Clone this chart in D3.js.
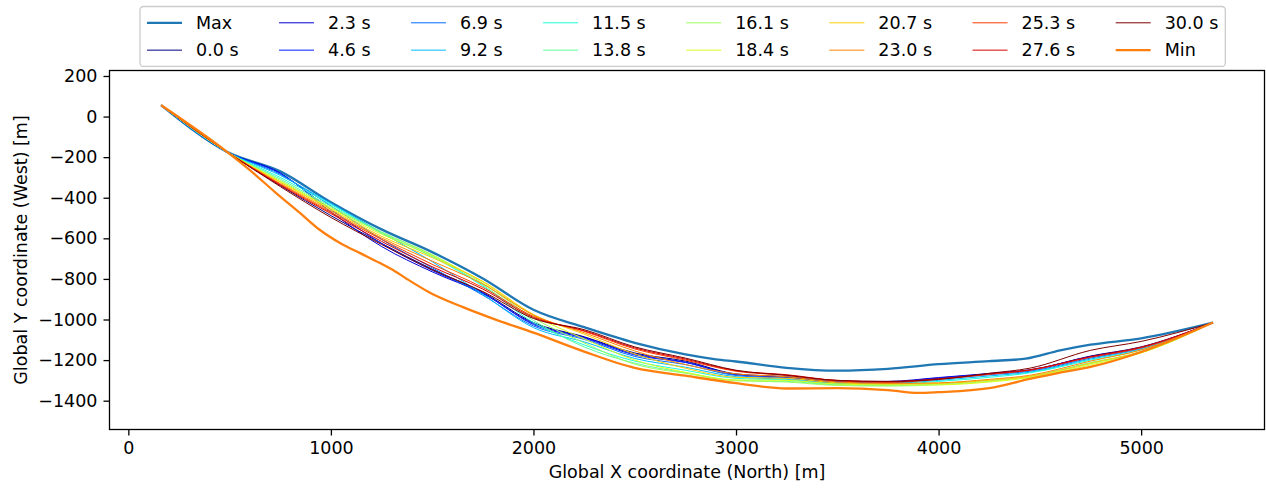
<!DOCTYPE html>
<html>
<head>
<meta charset="utf-8">
<script src="https://cdn.jsdelivr.net/npm/d3@7"></script>
<style>
  html, body { margin: 0; padding: 0; background: #ffffff; }
  svg { display: block; font-family: "DejaVu Sans", sans-serif; }
</style>
</head>
<body>
<svg id="chart" width="1266" height="489"></svg>
<script>
// ---- data -------------------------------------------------------------
// Global X (North) sampling positions of the snapshot profiles [m]
const stationsX = [166, 487, 750, 1000, 1250, 1500, 1750, 2000, 2250, 2500, 2750,
                   3000, 3250, 3500, 3750, 4000, 4250, 4450, 4750, 5000, 5350];

// Snapshot labels (simulation time)
const timeLabels = ["0.0 s", "2.3 s", "4.6 s", "6.9 s", "9.2 s", "11.5 s", "13.8 s",
                    "16.1 s", "18.4 s", "20.7 s", "23.0 s", "25.3 s", "27.6 s", "30.0 s"];

// Global Y (West) of each snapshot at stationsX [m]
const y_t00_0 = [53, -174, -340, -488, -625, -752, -866, -1015, -1085, -1165, -1205, -1268, -1282, -1305, -1308, -1290, -1268, -1250, -1180, -1135, -1017];
const y_t02_3 = [53, -174, -278, -470, -640, -765, -872, -1020, -1088, -1170, -1210, -1270, -1284, -1306, -1305, -1286, -1266, -1248, -1182, -1138, -1017];
const y_t04_6 = [53, -174, -281, -458, -625, -758, -870, -1025, -1092, -1175, -1212, -1272, -1285, -1308, -1308, -1288, -1268, -1250, -1185, -1140, -1017];
const y_t06_9 = [53, -174, -285, -440, -605, -745, -880, -1032, -1098, -1182, -1222, -1276, -1290, -1312, -1312, -1294, -1272, -1255, -1190, -1142, -1017];
const y_t09_2 = [53, -174, -290, -428, -572, -715, -876, -1040, -1110, -1192, -1235, -1282, -1295, -1315, -1315, -1300, -1278, -1260, -1195, -1145, -1017];
const y_t11_5 = [53, -174, -300, -433, -575, -690, -835, -1015, -1125, -1205, -1250, -1290, -1298, -1318, -1320, -1305, -1285, -1263, -1200, -1150, -1017];
const y_t13_8 = [53, -174, -308, -442, -568, -684, -830, -1005, -1135, -1215, -1262, -1300, -1305, -1322, -1325, -1318, -1300, -1280, -1212, -1160, -1017];
const y_t16_1 = [53, -174, -315, -448, -572, -680, -822, -992, -1115, -1220, -1265, -1302, -1308, -1325, -1328, -1322, -1305, -1284, -1218, -1163, -1017];
const y_t18_4 = [53, -174, -320, -453, -580, -686, -815, -980, -1095, -1200, -1260, -1298, -1300, -1318, -1322, -1322, -1308, -1286, -1224, -1165, -1017];
const y_t20_7 = [53, -174, -324, -458, -590, -695, -812, -975, -1072, -1170, -1240, -1285, -1290, -1312, -1318, -1315, -1300, -1280, -1215, -1158, -1017];
const y_t23_0 = [53, -174, -330, -465, -598, -712, -825, -978, -1065, -1155, -1222, -1268, -1282, -1308, -1315, -1312, -1295, -1275, -1205, -1150, -1017];
const y_t25_3 = [53, -174, -334, -472, -605, -728, -842, -985, -1058, -1145, -1200, -1255, -1275, -1302, -1310, -1295, -1270, -1250, -1186, -1140, -1017];
const y_t27_6 = [53, -174, -338, -478, -615, -740, -850, -990, -1055, -1140, -1195, -1252, -1272, -1300, -1306, -1292, -1268, -1248, -1183, -1136, -1017];
const y_t30_0 = [53, -174, -345, -497, -630, -755, -862, -995, -1050, -1135, -1190, -1250, -1275, -1300, -1305, -1295, -1265, -1240, -1152, -1108, -1017];

// Upper envelope over all time steps
const maxX = [166, 487, 750, 1000, 1250, 1500, 1750, 2000, 2250, 2500, 2750, 2900,
              3000, 3250, 3500, 3750, 4000, 4250, 4430, 4600, 4750, 5000, 5350];
const maxY = [53, -174, -270, -422, -556, -668, -798, -952, -1038, -1115, -1172, -1196,
              -1207, -1238, -1252, -1243, -1220, -1205, -1193, -1152, -1124, -1093, -1017];

// Lower envelope over all time steps
const minX = [166, 487, 600, 724, 847, 946, 1045, 1144, 1242, 1316, 1375, 1489, 1652, 1820,
              2000, 2250, 2500, 2750, 3000, 3250, 3500, 3750, 3900, 4000, 4250, 4450,
              4600, 4750, 5000, 5350];
const minY = [53, -174, -264, -372, -475, -559, -623, -673, -722, -762, -800, -868, -939, -1003,
              -1065, -1158, -1238, -1277, -1314, -1340, -1338, -1348, -1362, -1358, -1338, -1293,
              -1262, -1234, -1160, -1017];

// Axis settings
const xDomain = [-93, 5609];
const yDomain = [-1542, 227];
const xTicks = [0, 1000, 2000, 3000, 4000, 5000];
const yTicks = [-1400, -1200, -1000, -800, -600, -400, -200, 0, 200];

// ---- drawing ----------------------------------------------------------
const snapshots = [y_t00_0, y_t02_3, y_t04_6, y_t06_9, y_t09_2, y_t11_5, y_t13_8,
                   y_t16_1, y_t18_4, y_t20_7, y_t23_0, y_t25_3, y_t27_6, y_t30_0];

const FONT = 17.5;
const plot = { left: 109.5, right: 1264.5, top: 70.5, bottom: 429.5 };

const svg = d3.select("#chart");

const x = d3.scaleLinear().domain(xDomain).range([plot.left, plot.right]);
const y = d3.scaleLinear().domain(yDomain).range([plot.bottom, plot.top]);

// "jet" colormap built from its piecewise-linear channel definitions
const jetR = d3.scaleLinear().domain([0, 0.35, 0.66, 0.89, 1]).range([0, 0, 1, 1, 0.5]);
const jetG = d3.scaleLinear().domain([0, 0.125, 0.375, 0.64, 0.91, 1]).range([0, 0, 1, 1, 0, 0]);
const jetB = d3.scaleLinear().domain([0, 0.11, 0.34, 0.65, 1]).range([0.5, 1, 1, 0, 0]);
const jet = t => d3.rgb(jetR(t) * 255, jetG(t) * 255, jetB(t) * 255).formatHex();

const MAX_COLOR = "#1f77b4";
const MIN_COLOR = "#ff7f0e";

const series = [];
series.push({ label: "Max", xs: maxX, ys: maxY, color: MAX_COLOR, width: 2.3 });
snapshots.forEach((ys, i) => {
  series.push({ label: timeLabels[i], xs: stationsX, ys: ys,
                color: jet(i / (snapshots.length - 1)), width: 1.0 });
});
series.push({ label: "Min", xs: minX, ys: minY, color: MIN_COLOR, width: 2.3 });

// clip to the axes area
svg.append("defs").append("clipPath").attr("id", "plot-clip")
  .append("rect")
  .attr("x", plot.left).attr("y", plot.top)
  .attr("width", plot.right - plot.left).attr("height", plot.bottom - plot.top);

const line = d3.line()
  .x(d => x(d[0]))
  .y(d => y(d[1]))
  .curve(d3.curveMonotoneX);

const gLines = svg.append("g").attr("clip-path", "url(#plot-clip)");
series.forEach(s => {
  gLines.append("path")
    .datum(s.xs.map((v, i) => [v, s.ys[i]]))
    .attr("d", line)
    .attr("fill", "none")
    .attr("stroke", s.color)
    .attr("stroke-width", s.width)
    .attr("stroke-linejoin", "round")
    .attr("stroke-linecap", "square");
});

// axes
const xAxis = d3.axisBottom(x).tickValues(xTicks).tickFormat(d3.format("d"))
  .tickSize(6).tickPadding(6);
const yAxis = d3.axisLeft(y).tickValues(yTicks).tickFormat(d3.format("d"))
  .tickSize(6).tickPadding(6);

const gx = svg.append("g").attr("transform", `translate(0,${plot.bottom})`).call(xAxis);
const gy = svg.append("g").attr("transform", `translate(${plot.left},0)`).call(yAxis);
[gx, gy].forEach(g => {
  g.select(".domain").remove();
  g.selectAll(".tick line").attr("stroke", "#000").attr("stroke-width", 1.3);
  g.selectAll(".tick text")
    .attr("fill", "#000")
    .style("font-size", FONT + "px")
    .style("font-family", "'DejaVu Sans', sans-serif");
});

// frame
svg.append("rect")
  .attr("x", plot.left).attr("y", plot.top)
  .attr("width", plot.right - plot.left).attr("height", plot.bottom - plot.top)
  .attr("fill", "none").attr("stroke", "#000").attr("stroke-width", 1.3);

// axis titles
svg.append("text")
  .attr("x", (plot.left + plot.right) / 2).attr("y", 478)
  .attr("text-anchor", "middle")
  .style("font-size", FONT + "px")
  .text("Global X coordinate (North) [m]");

svg.append("text")
  .attr("transform", `translate(27,${(plot.top + plot.bottom) / 2}) rotate(-90)`)
  .attr("text-anchor", "middle")
  .style("font-size", FONT + "px")
  .text("Global Y coordinate (West) [m]");

// ---- legend: 8 columns x 2 rows, filled column by column --------------
const nRows = 2;
const nCols = Math.ceil(series.length / nRows);
const pad = 0.4 * FONT, handleLen = 2.0 * FONT, handlePad = 0.8 * FONT, colSpace = 2.0 * FONT + 5.5;
const legLeft = 140, legTop = 6.5;
const rowH = 18.6, rowGap = 0.5 * FONT;

const gLeg = svg.append("g");
const frame = gLeg.append("rect");
const gItems = gLeg.append("g");

let colX = legLeft + pad;
for (let c = 0; c < nCols; c++) {
  let maxW = 0;
  for (let r = 0; r < nRows; r++) {
    const s = series[c * nRows + r];
    if (!s) continue;
    const cy = legTop + pad + rowH / 2 + r * (rowH + rowGap);
    gItems.append("line")
      .attr("x1", colX).attr("x2", colX + handleLen)
      .attr("y1", cy).attr("y2", cy)
      .attr("stroke", s.color).attr("stroke-width", s.width);
    const t = gItems.append("text")
      .attr("x", colX + handleLen + handlePad).attr("y", cy)
      .attr("dy", "0.36em")
      .style("font-size", FONT + "px")
      .text(s.label);
    maxW = Math.max(maxW, t.node().getComputedTextLength());
  }
  colX += handleLen + handlePad + maxW + (c < nCols - 1 ? colSpace : 0);
}
const legRight = colX + pad;
const legBottom = legTop + 2 * pad + nRows * rowH + (nRows - 1) * rowGap;
frame
  .attr("x", legLeft).attr("y", legTop)
  .attr("width", legRight - legLeft).attr("height", legBottom - legTop)
  .attr("rx", 3.5).attr("ry", 3.5)
  .attr("fill", "#ffffff").attr("fill-opacity", 0.8)
  .attr("stroke", "#cccccc").attr("stroke-width", 1.3);
</script>
</body>
</html>
